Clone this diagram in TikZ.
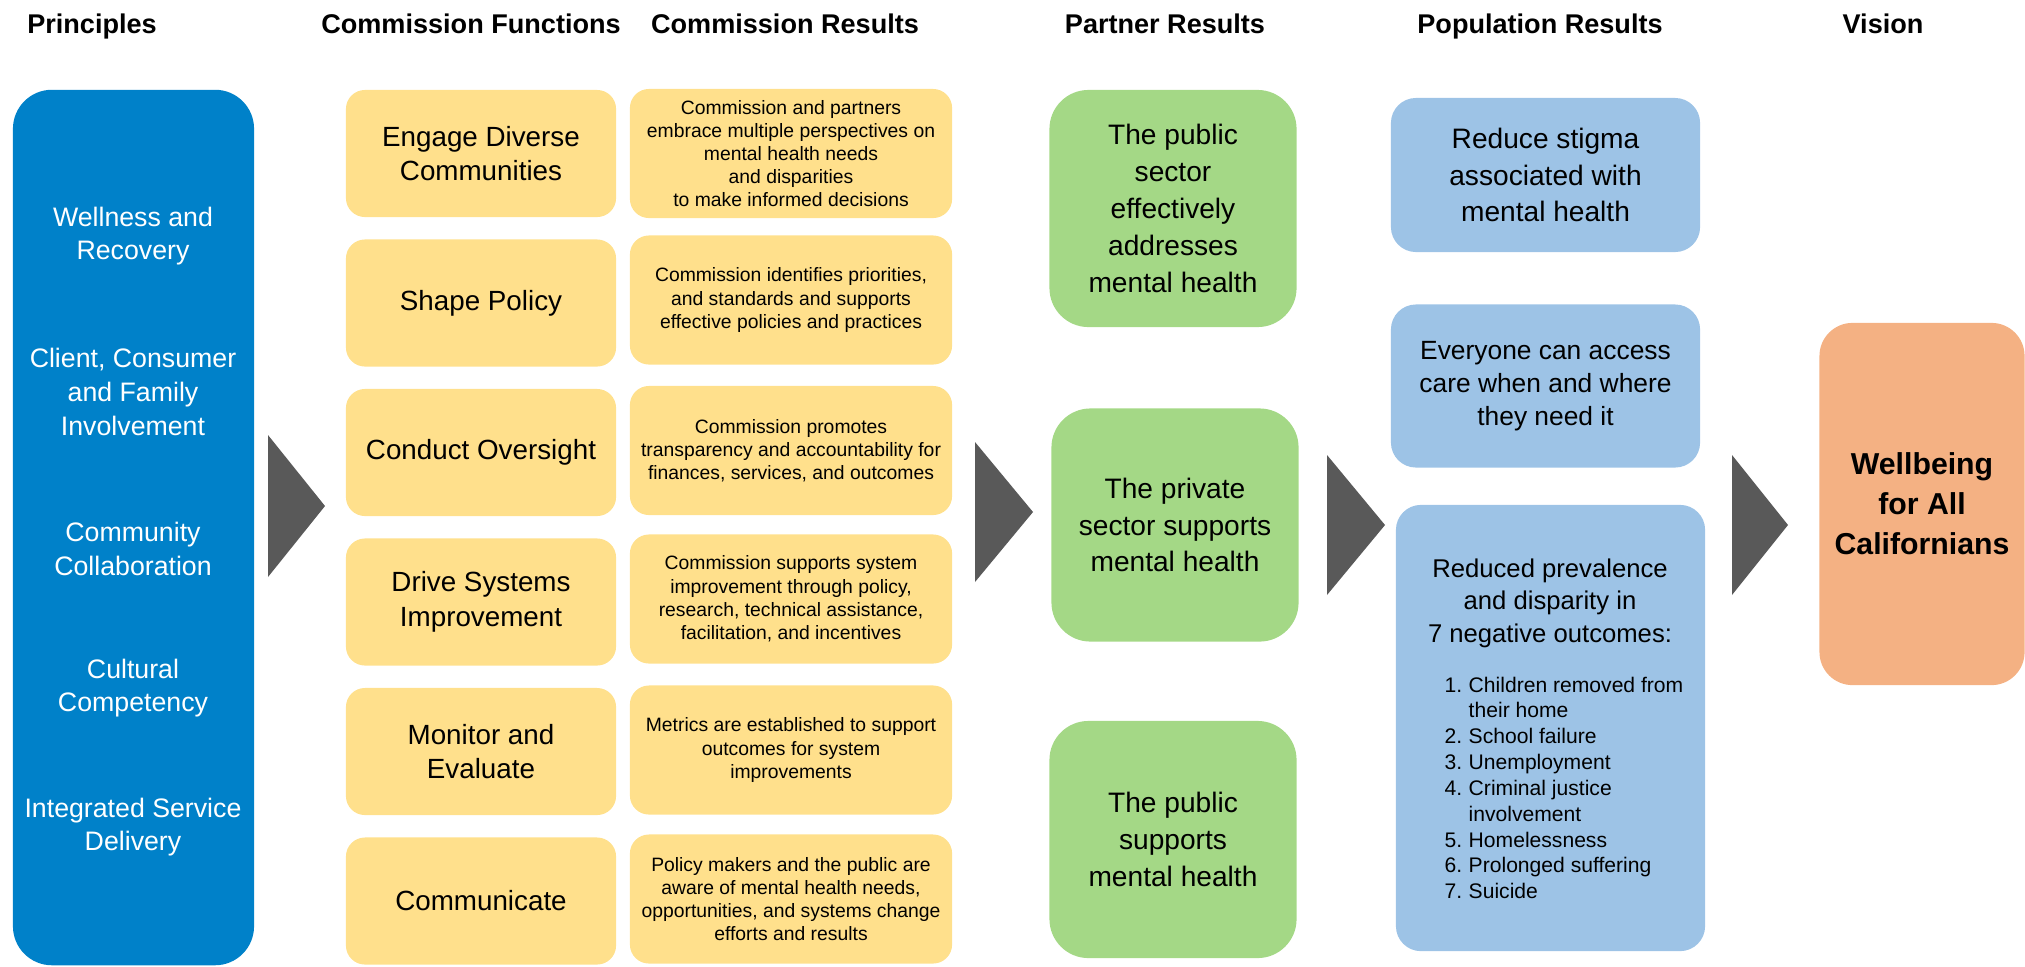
\documentclass[tikz,border=0pt]{standalone}
\usepackage{fontspec}
\setmainfont{Liberation Sans}
\definecolor{prinblue}{HTML}{0081C9}
\definecolor{funcyellow}{HTML}{FFE08C}
\definecolor{partgreen}{HTML}{A4D886}
\definecolor{popblue}{HTML}{9DC3E6}
\definecolor{visorange}{HTML}{F4B183}
\definecolor{arrowgray}{HTML}{595959}
\newcommand\olnum[1]{\makebox[0.24cm][l]{#1}}

\begin{document}
\begin{tikzpicture}[x=0.01cm,y=-0.01cm,
    every node/.style={inner sep=0pt, align=center},
    head/.style={font=\bfseries\fontsize{7.7}{9}\selectfont, anchor=base},
    prin/.style={text=white, font=\fontsize{7.6}{9.55}\selectfont},
    func/.style={fill=funcyellow, rounded corners=0.19cm, minimum width=2.70cm, minimum height=1.27cm, font=\fontsize{7.9}{9.9}\selectfont},
    res/.style={fill=funcyellow, rounded corners=0.19cm, minimum width=3.22cm, minimum height=1.29cm, font=\fontsize{5.5}{6.6}\selectfont},
    part/.style={fill=partgreen, rounded corners=0.39cm, minimum width=2.47cm, font=\fontsize{8}{10.5}\selectfont},
    pop/.style={fill=popblue, rounded corners=0.25cm, minimum width=3.09cm},
    tri/.style={fill=arrowgray}]
            \useasboundingbox (0,0) rectangle (2025,966);
            % headers
            \node[head] (h1) at (92,33) {Principles};
            \node[head] (h2) at (471,33) {Commission Functions};
            \node[head] (h3) at (785,33) {Commission Results};
            \node[head] (h4) at (1165,33) {Partner Results};
            \node[head] (h5) at (1540,33) {Population Results};
            \node[head] (h6) at (1883,33) {Vision};
            %
            \node[fill=prinblue, rounded corners=0.39cm, minimum width=2.41cm, minimum height=8.75cm] (prin) at (133.5,527.5) {};
            \node[prin] (p1) at (133,236) {Wellness and\\Recovery};
            \node[prin] (p2) at (133,392) {Client, Consumer\\and Family\\Involvement};
            \node[prin] (p3) at (133,549) {Community\\Collaboration};
            \node[prin] (p4) at (133,688) {Cultural\\Competency};
            \node[prin] (p5) at (133,827) {Integrated Service\\Delivery};
            %
            \fill[tri] (268,435) -- (325,506) -- (268,577) -- cycle;
            %
            \node[func] (f1) at (481,153.5) {Engage Diverse\\Communities};
            \node[func] (f2) at (481,303) {Shape Policy};
            \node[func] (f3) at (481,452.5) {Conduct Oversight};
            \node[func] (f4) at (481,602) {Drive Systems\\Improvement};
            \node[func] (f5) at (481,751.5) {Monitor and\\Evaluate};
            \node[func] (f6) at (481,901) {Communicate};
            %
            \node[res] (r1) at (791,153.5) {Commission and partners\\embrace multiple perspectives on\\mental health needs\\and disparities\\to make informed decisions};
            \node[res] (r2) at (791,300) {Commission identifies priorities,\\and standards and supports\\effective policies and practices};
            \node[res] (r3) at (791,450.5) {Commission promotes\\transparency and accountability for\\finances, services, and outcomes};
            \node[res] (r4) at (791,599) {Commission supports system\\improvement through policy,\\research, technical assistance,\\facilitation, and incentives};
            \node[res] (r5) at (791,750) {Metrics are established to support\\outcomes for system\\improvements};
            \node[res] (r6) at (791,899) {Policy makers and the public are\\aware of mental health needs,\\opportunities, and systems change\\efforts and results};
            %
            \fill[tri] (975,442) -- (1033,512) -- (975,582) -- cycle;
            %
            \node[part, minimum height=2.37cm] (g1) at (1173,208.5) {The public\\sector\\effectively\\addresses\\mental health};
            \node[part, minimum height=2.33cm] (g2) at (1175,525) {The private\\sector supports\\mental health};
            \node[part, minimum height=2.37cm] (g3) at (1173,839.5) {The public\\supports\\mental health};
            %
            \fill[tri] (1327,455) -- (1385,525) -- (1327,595) -- cycle;
            %
            \node[pop, minimum height=1.54cm, font=\fontsize{8}{10.5}\selectfont] (b1) at (1545.5,175) {Reduce stigma\\associated with\\mental health};
            \node[pop, minimum height=1.63cm, font=\fontsize{7.5}{9.4}\selectfont] (b2) at (1545.5,386) {Everyone can access\\care when and where\\they need it};
            \node[pop, minimum height=4.46cm] (b3) at (1550.5,728) {};
            \node[font=\fontsize{7.3}{9.2}\selectfont] (b3t) at (1550,603) {Reduced prevalence\\and disparity in\\7 negative outcomes:};
            \node[anchor=north west, align=left, font=\fontsize{6}{7.35}\selectfont] (b3l) at (1444,676) {\olnum{1.}Children removed from\\\olnum{}their home\\\olnum{2.}School failure\\\olnum{3.}Unemployment\\\olnum{4.}Criminal justice\\\olnum{}involvement\\\olnum{5.}Homelessness\\\olnum{6.}Prolonged suffering\\\olnum{7.}Suicide};
            %
            \fill[tri] (1732,455) -- (1788,525) -- (1732,595) -- cycle;
            %
            \node[fill=visorange, rounded corners=0.33cm, minimum width=2.05cm, minimum height=3.62cm, font=\bfseries\fontsize{8.6}{11.4}\selectfont] (v) at (1922,504) {Wellbeing\\for All\\Californians};
        \end{tikzpicture}
\end{document}
